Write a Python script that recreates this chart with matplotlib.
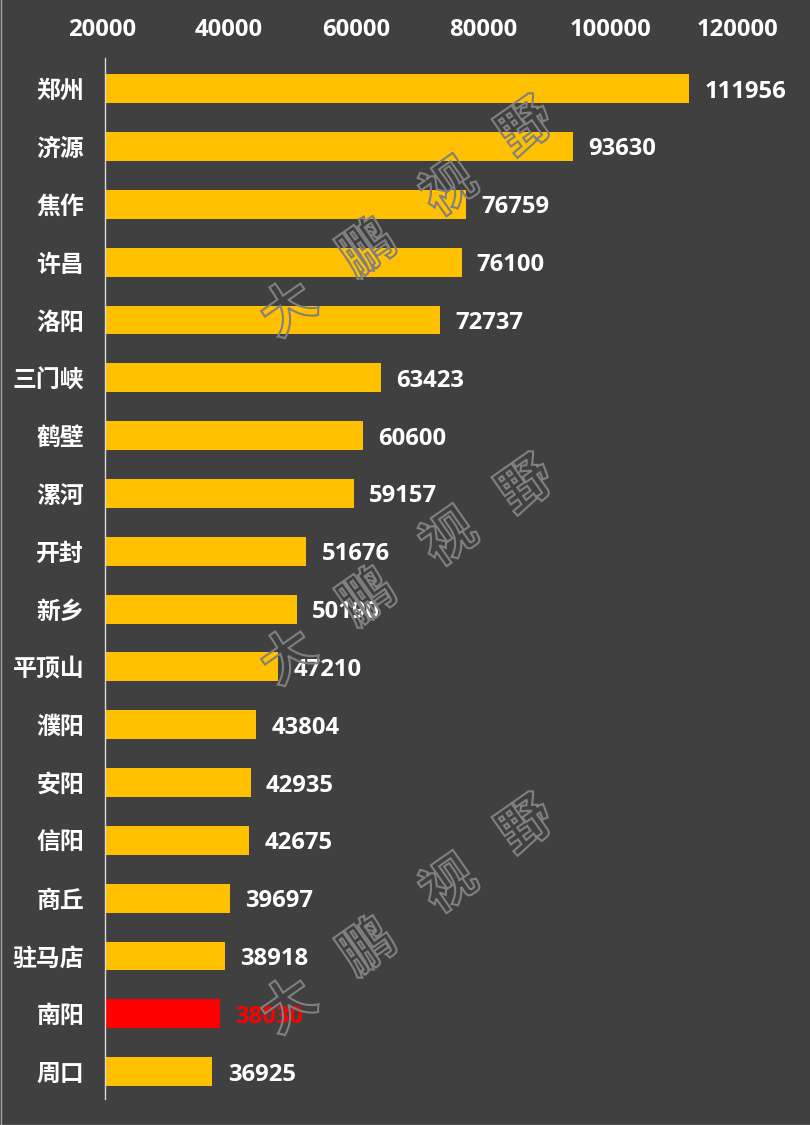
from matplotlib.font_manager import FontProperties
from matplotlib.patches import PathPatch
from matplotlib.textpath import TextPath
from matplotlib.transforms import Affine2D, ScaledTranslation
import matplotlib.pyplot as plt

plt.rcParams['font.family'] = ['Open Sans', 'Noto Sans CJK SC', 'DejaVu Sans']

CITIES = ['郑州', '济源', '焦作', '许昌', '洛阳', '三门峡', '鹤壁', '漯河', '开封',
          '新乡', '平顶山', '濮阳', '安阳', '信阳', '商丘', '驻马店', '南阳', '周口']
VALUES = [111956, 93630, 76759, 76100, 72737, 63423, 60600, 59157, 51676,
          50190, 47210, 43804, 42935, 42675, 39697, 38918, 38030, 36925]
TICKS = [20000, 40000, 60000, 80000, 100000, 120000]
HIGHLIGHT = '南阳'

BG = '#404040'
W, H = 810, 1125

# watermark, pixel centres from the top-left corner
WM_CHARS = ['大', '鹏', '视', '野']
WM_ROWS = [
    [(287, 306), (365, 246), (447, 185), (525, 125)],
    [(287, 654), (365, 595), (447, 535), (525, 483)],
    [(287, 1003), (365, 945), (447, 882), (525, 823)],
]


def main():
    fig = plt.figure(figsize=(W / 100, H / 100), dpi=100, facecolor=BG)
    ax = fig.add_axes([104.9 / W, 1 - 1099.4 / H, (740.6 - 104.9) / W, (1099.4 - 58.2) / H])
    ax.set_facecolor(BG)

    colors = ['#FF0000' if c == HIGHLIGHT else '#FFC000' for c in CITIES]
    ax.barh(range(len(CITIES)), VALUES, left=0, height=0.5, color=colors, zorder=2)
    ax.set_xlim(TICKS[0], TICKS[-1])
    ax.set_ylim(17.48, -0.527)

    for i, (c, v) in enumerate(zip(CITIES, VALUES)):
        ax.annotate(str(v), xy=(v, i), xytext=(11, 0), textcoords='offset points',
                    ha='left', va='center_baseline', fontsize=17.2, fontweight='bold',
                    color='#FF0000' if c == HIGHLIGHT else 'white', zorder=3)

    ax.set_yticks(range(len(CITIES)))
    ax.set_yticklabels(CITIES, fontsize=17.2, fontweight='bold', color='white',
                       family=['Noto Sans CJK SC', 'DejaVu Sans'])
    ax.set_xticks(TICKS)
    ax.set_xticklabels([str(t) for t in TICKS], fontsize=17.2, fontweight='bold', color='white')
    ax.tick_params(axis='x', length=0, top=True, bottom=False, labeltop=True, labelbottom=False, pad=12)
    ax.tick_params(axis='y', length=0, pad=15)
    shift = ScaledTranslation(-3 / 100, 0, fig.dpi_scale_trans)
    for lab in ax.get_xticklabels():
        lab.set_transform(lab.get_transform() + shift)

    for side in ['top', 'right', 'bottom']:
        ax.spines[side].set_visible(False)
    ax.spines['left'].set_color('#d9d9d9')
    ax.spines['left'].set_linewidth(1)
    ax.spines['left'].set_zorder(4)

    # outlined watermark, hollow so the bars show through
    wm_font = FontProperties(family='Noto Sans CJK SC', weight='black')
    for row in WM_ROWS:
        for ch, (px, py) in zip(WM_CHARS, row):
            tp = TextPath((0, 0), ch, size=54, prop=wm_font)
            box = tp.get_extents()
            tr = (Affine2D()
                  .translate(-(box.x0 + box.x1) / 2, -(box.y0 + box.y1) / 2)
                  .rotate_deg(35)
                  .translate(px, H - py))
            fig.add_artist(PathPatch(tp, transform=tr, facecolor='none',
                                     edgecolor='#808080', linewidth=1.5, zorder=10))

    # thin light frame on the left and bottom edges of the picture
    fig.add_artist(plt.Line2D([0.5 / W, 0.5 / W], [0, 1], color='#a6a6a6', lw=1))
    fig.add_artist(plt.Line2D([0, 1], [0.5 / H, 0.5 / H], color='#a6a6a6', lw=1))

    fig.savefig('out.png', dpi=100, facecolor=fig.get_facecolor())
    plt.close(fig)


if __name__ == '__main__':
    main()
